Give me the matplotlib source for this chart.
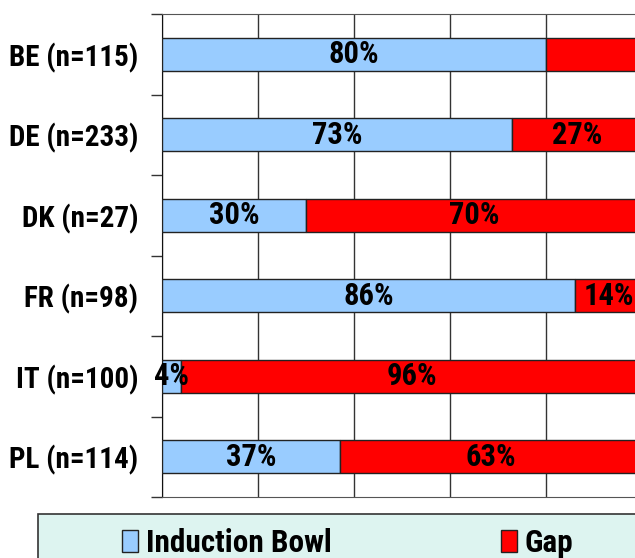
import numpy as np
import matplotlib
matplotlib.use('Agg')
import matplotlib.pyplot as plt
from matplotlib.patches import Patch, Rectangle

countries = ['BE (n=115)', 'DE (n=233)', 'DK (n=27)', 'FR (n=98)', 'IT (n=100)', 'PL (n=114)']
induction = [80, 73, 30, 86, 4, 37]
gap = [20, 27, 70, 14, 96, 63]
gap_shown = [False, True, True, True, True, True]

BLUE = '#99CCFF'
RED = '#FF0000'
FONT = ['Roboto Condensed', 'DejaVu Sans']
plt.rcParams['font.family'] = FONT

fig = plt.figure(figsize=(6.35, 5.58), dpi=100)
ax = fig.add_axes([162/635, 61/558, 480/635, 483/558])

y = np.arange(len(countries))
ax.barh(y, induction, height=0.41, color=BLUE, edgecolor='#222222', linewidth=1, zorder=3)
ax.barh(y, gap, left=induction, height=0.41, color=RED, edgecolor='#222222', linewidth=1, zorder=3)

for i in range(len(countries)):
    ax.text(induction[i] / 2, y[i], f'{induction[i]}%', ha='center', va='center',
            fontsize=22, fontweight='bold', zorder=4)
    if gap_shown[i]:
        ax.text(induction[i] + gap[i] / 2, y[i], f'{gap[i]}%', ha='center', va='center',
                fontsize=22, fontweight='bold', zorder=4)

ax.set_xlim(0, 100)
ax.set_ylim(len(countries) - 0.5, -0.5)
ax.set_xticks([0, 20, 40, 60, 80, 100])
ax.tick_params(axis='x', length=0, labelbottom=False)
ax.grid(axis='x', color='#333333', linewidth=1, zorder=0)

ax.set_yticks(y)
ax.set_yticklabels(countries, fontsize=21, fontweight='bold')
ax.tick_params(axis='y', which='major', length=0, pad=17)
ax.set_yticks(np.arange(-0.5, len(countries), 1), minor=True)
ax.tick_params(axis='y', which='minor', length=8, width=1, color='#333333', direction='out')

for s in ['top', 'bottom']:
    ax.spines[s].set_color('#555555')
ax.spines['left'].set_color('#111111')
ax.spines['right'].set_visible(False)

# legend panel runs off the right and bottom edges
fig.patches.append(Rectangle((38/635, -0.05), 1.0, (558 - 514)/558 + 0.05,
                             transform=fig.transFigure, facecolor='#DDF4F0',
                             edgecolor='#333333', linewidth=1.2, zorder=0))

handles = [Patch(facecolor=BLUE, edgecolor='#222222', label='Induction Bowl'),
           Patch(facecolor=RED, edgecolor='#222222', label='Gap')]
fig.legend(handles=handles, loc='upper left', ncol=2, frameon=False,
           bbox_to_anchor=(122/635, 1 - 528/558),
           prop={'size': 22.5, 'weight': 'bold', 'family': FONT},
           handlelength=0.52, handleheight=0.7, handletextpad=0.25,
           columnspacing=5.4, borderaxespad=0, borderpad=0)

fig.savefig('out.png', dpi=100)
